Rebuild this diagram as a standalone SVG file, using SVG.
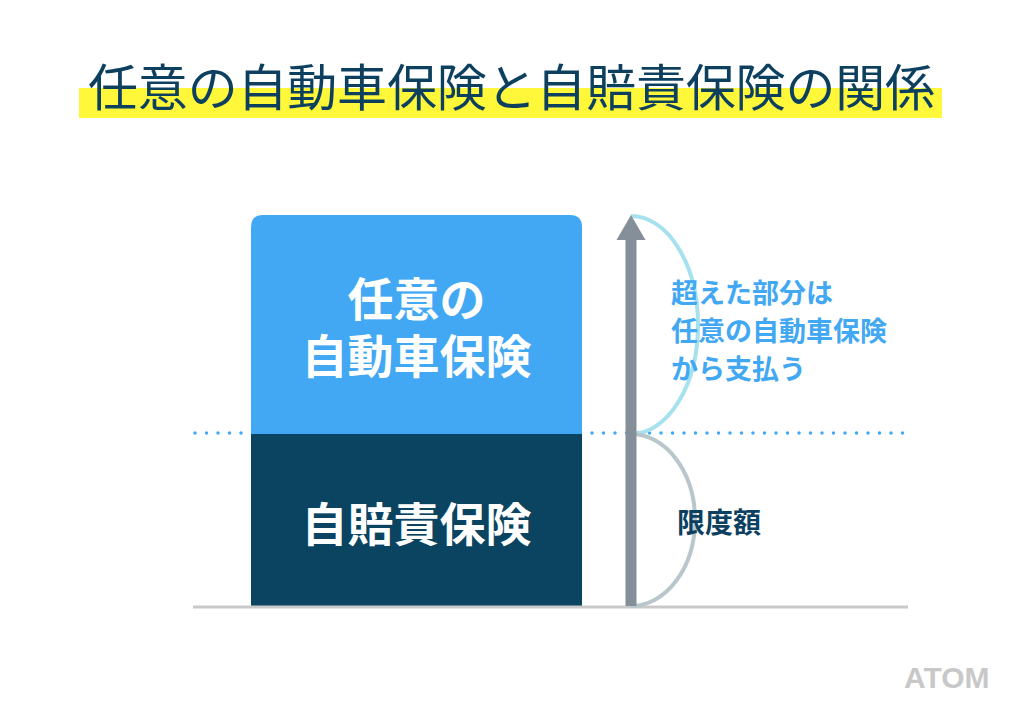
<svg xmlns="http://www.w3.org/2000/svg" width="1024" height="726" viewBox="0 0 1024 726">
<style>
.jp{font-family:"Noto Sans CJK JP","Noto Sans",sans-serif;}
.title{font-size:50px;font-weight:400;fill:#0d3f5f;}
.box{font-size:46px;font-weight:700;fill:#ffffff;text-anchor:middle;}
.note{font-size:27px;font-weight:700;fill:#42a8f4;}
.dark{font-size:28px;font-weight:700;fill:#0d3f5f;}
.dots{stroke:#42a8f4;stroke-width:3.5;stroke-linecap:round;stroke-dasharray:0 11.5;fill:none;}
</style>
<rect width="1024" height="726" fill="#ffffff"/>
<g id="title">
<rect x="79" y="88" width="863" height="30" fill="#fff73a"/>
<text class="jp title" x="88" y="106" textLength="847" lengthAdjust="spacing">任意の自動車保険と自賠責保険の関係</text>
</g>
<g id="optional-insurance">
<path d="M251,227 Q251,215 263,215 L570,215 Q582,215 582,227 L582,434 L251,434 Z" fill="#42a8f4"/>
<text class="jp box" x="416.5" y="316">任意の</text>
<text class="jp box" x="416.5" y="373">自動車保険</text>
</g>
<g id="compulsory-insurance">
<rect x="251" y="434" width="331" height="172" fill="#0a4461"/>
<text class="jp box" x="416.5" y="541">自賠責保険</text>
</g>
<g id="connectors">
<line x1="193" y1="607" x2="908" y2="607" stroke="#c9c9c9" stroke-width="3"/>
<line class="dots" x1="195" y1="433" x2="243" y2="433"/>
<line class="dots" x1="592" y1="433" x2="908" y2="433"/>
<path d="M631,216 A67,109 0 0 1 631,434" fill="none" stroke="#a6e1ef" stroke-width="4"/>
<path d="M631,434 A64,86 0 0 1 631,606" fill="none" stroke="#b9c7cc" stroke-width="4"/>
<rect x="625.5" y="238" width="11" height="368" fill="#858f99"/>
<polygon points="631,215 645.5,240 616.5,240" fill="#858f99"/>
</g>
<g id="excess-label">
<text class="jp note" x="671" y="303">超えた部分は</text>
<text class="jp note" x="671" y="341">任意の自動車保険</text>
<text class="jp note" x="671" y="379">から支払う</text>
</g>
<g id="limit-label">
<text class="jp dark" x="677" y="533">限度額</text>
</g>
<g id="logo">
<text x="904" y="688" font-family="Liberation Sans, Arial, sans-serif" font-size="30" font-weight="700" fill="#c8c8c8">ATOM</text>
</g>
</svg>
